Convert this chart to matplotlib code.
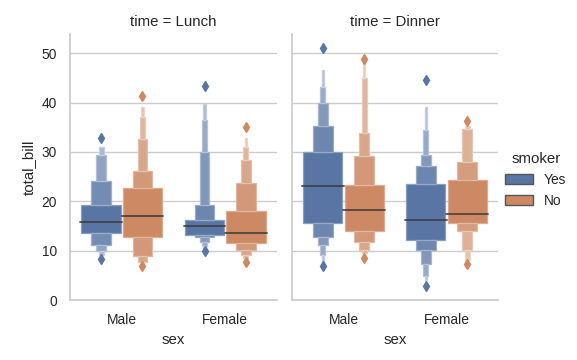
import numpy as np
import matplotlib
matplotlib.use("Agg")
import matplotlib.pyplot as plt
from matplotlib.patches import Patch
import seaborn as sns

times = ["Lunch", "Dinner"]
sexes = ["Male", "Female"]
smokers = ["Yes", "No"]

# letter values: upper edges (Q3 outward), lower edges (Q1 outward)
lunch_male_yes_hi = [19.2, 24.2, 29.3, 31.0]
lunch_male_yes_lo = [13.5, 11.2, 9.9, 9.2]
lunch_male_no_hi = [22.6, 26.1, 32.7, 37.0, 39.1]
lunch_male_no_lo = [12.7, 9.0, 7.7, 7.6, 7.55]
lunch_female_yes_hi = [16.3, 19.2, 29.9, 36.4, 39.8]
lunch_female_yes_lo = [13.1, 12.7, 11.7, 10.9, 10.6]
lunch_female_no_hi = [18.1, 23.8, 28.3, 31.0, 32.8]
lunch_female_no_lo = [11.5, 10.2, 9.2, 8.45, 8.3]
dinner_male_yes_hi = [30.0, 35.3, 40.0, 43.1, 46.6]
dinner_male_yes_lo = [15.7, 12.7, 11.2, 9.1, 7.5]
dinner_male_no_hi = [23.4, 29.2, 33.8, 45.0, 48.0]
dinner_male_no_lo = [13.9, 11.8, 10.2, 9.5, 9.2]
dinner_female_yes_hi = [23.6, 27.2, 29.3, 34.4, 39.2]
dinner_female_yes_lo = [12.1, 10.2, 7.2, 4.9, 4.1]
dinner_female_no_hi = [24.4, 28.0, 34.7, 35.3]
dinner_female_no_lo = [15.7, 14.05, 10.2, 8.2]

medians = {
    ("Lunch", "Male"): [15.9, 16.95],
    ("Lunch", "Female"): [14.9, 13.5],
    ("Dinner", "Male"): [23.2, 18.3],
    ("Dinner", "Female"): [16.3, 17.35],
}
outliers = {
    ("Lunch", "Male"): [[32.8, 8.3], [41.4, 6.8]],
    ("Lunch", "Female"): [[43.3, 9.9], [35.0, 7.8]],
    ("Dinner", "Male"): [[51.0, 6.8], [48.8, 8.5]],
    ("Dinner", "Female"): [[44.6, 2.8], [36.2, 7.2]],
}
levels = {
    ("Lunch", "Male"): [(lunch_male_yes_lo, lunch_male_yes_hi), (lunch_male_no_lo, lunch_male_no_hi)],
    ("Lunch", "Female"): [(lunch_female_yes_lo, lunch_female_yes_hi), (lunch_female_no_lo, lunch_female_no_hi)],
    ("Dinner", "Male"): [(dinner_male_yes_lo, dinner_male_yes_hi), (dinner_male_no_lo, dinner_male_no_hi)],
    ("Dinner", "Female"): [(dinner_female_yes_lo, dinner_female_yes_hi), (dinner_female_no_lo, dinner_female_no_hi)],
}


def main():
    sns.set_theme(style="whitegrid")
    plt.rcParams['font.family'] = ['Liberation Sans', 'DejaVu Sans']

    deep = sns.color_palette("deep")
    colors = [np.array(sns.desaturate(deep[0], .75)), np.array(sns.desaturate(deep[1], .75))]

    fig = plt.figure(figsize=(5.77, 3.6), dpi=100)
    ax1 = fig.add_axes([70 / 577, 60 / 360, 207 / 577, 266 / 360])
    ax2 = fig.add_axes([292 / 577, 60 / 360, 206 / 577, 266 / 360], sharey=ax1)

    w = 0.38
    for ax, t in zip([ax1, ax2], times):
        for i, s in enumerate(sexes):
            for j in range(2):
                lo, hi = levels[(t, s)][j]
                xc = i + (j - 0.5) * 0.4
                base = colors[j]
                k = len(hi)
                shade = np.linspace(1, 0.5, k)
                for l in range(k):
                    face = 1 - shade[l] * (1 - base)
                    edge = 1 - 0.7 * (1 - face)
                    bw = w / 2 ** l
                    if l == 0:
                        ax.bar(xc, hi[0] - lo[0], bottom=lo[0], width=bw,
                               color=face, edgecolor=edge, linewidth=0.9, zorder=2)
                    else:
                        ax.bar(xc, hi[l] - hi[l - 1], bottom=hi[l - 1], width=bw,
                               color=face, edgecolor=edge, linewidth=0.9, zorder=2)
                        ax.bar(xc, lo[l - 1] - lo[l], bottom=lo[l], width=bw,
                               color=face, edgecolor=edge, linewidth=0.9, zorder=2)
                m = medians[(t, s)][j]
                ax.plot([xc - w * 0.53, xc + w * 0.53], [m, m], color='#3a3a3a',
                        alpha=0.8, lw=1.4, zorder=3)
                out = outliers[(t, s)][j]
                ax.plot([xc] * len(out), out, 'd', color=base, ms=5.5, zorder=3)

        ax.set_xticks([0, 1], sexes)
        ax.set_xlim(-0.5, 1.5)
        ax.set_ylim(0, 53.9)
        ax.set_yticks([0, 10, 20, 30, 40, 50])
        ax.grid(axis='x', visible=False)
        ax.set_title(f'time = {t}', fontsize=10.8)
        ax.set_xlabel('sex', fontsize=10.8)
        for side in ['top', 'right']:
            ax.spines[side].set_visible(False)
        ax.tick_params(labelsize=9.9)

    ax1.set_ylabel('total_bill', fontsize=10.8)
    ax2.tick_params(labelleft=False)

    handles = [Patch(facecolor=colors[0], edgecolor='#555555', label='Yes'),
               Patch(facecolor=colors[1], edgecolor='#555555', label='No')]
    leg = fig.legend(handles=handles, title='smoker', loc='center left',
                     bbox_to_anchor=(493 / 577, 0.5), frameon=False, fontsize=9.9)
    leg.get_title().set_fontsize(10.8)

    fig.savefig('out.png', dpi=100)


if __name__ == "__main__":
    main()
